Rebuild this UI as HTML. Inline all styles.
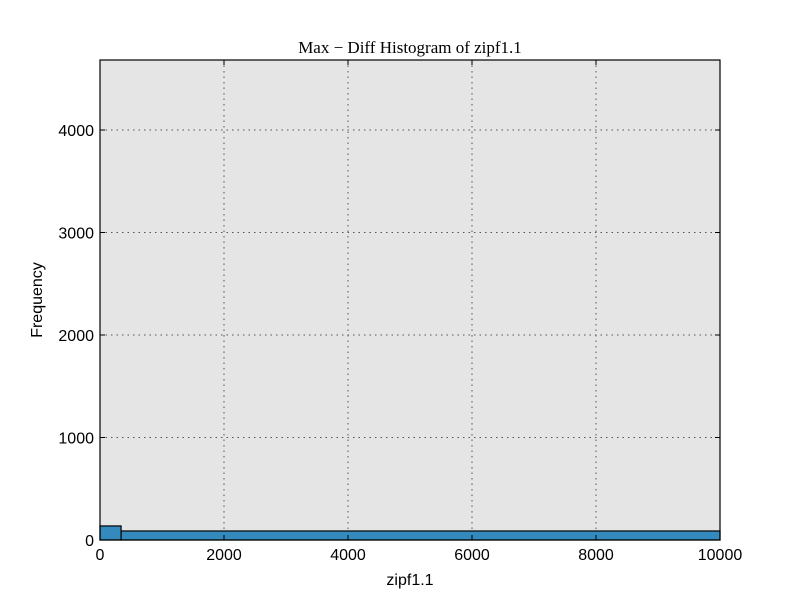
<!DOCTYPE html>
<html><head><meta charset="utf-8"><style>
body{margin:0;background:#fff;}
svg text{font-family:"Liberation Sans",sans-serif;}
</style></head><body>
<svg width="800" height="600" xmlns="http://www.w3.org/2000/svg">
<rect x="0" y="0" width="800" height="600" fill="#fff"/>
<rect x="100" y="60" width="620" height="480" fill="#e5e5e5"/>
<g id="grid"></g>
<g id="bars"></g>
<rect x="100" y="60" width="620" height="480" fill="none" stroke="#000" stroke-width="1.2"/>
<g id="ticks"></g>
<text x="410" y="53" text-anchor="middle" font-size="17" style="font-family:'Liberation Serif',serif">Max − Diff Histogram of zipf1.1</text>
<text x="410" y="585" text-anchor="middle" font-size="16">zipf1.1</text>
<text transform="translate(42,300) rotate(-90)" text-anchor="middle" font-size="16">Frequency</text>
</svg>
<script>
const binEdges=[0,340,10000];
const counts=[137,88];
const xTicks=[0,2000,4000,6000,8000,10000];
const yTicks=[0,1000,2000,3000,4000];
const X0=100,X1=720,Y0=540,Y1=60,xMax=10000,yMax=4683;
const sx=v=>X0+(v/xMax)*(X1-X0);
const sy=v=>Y0-(v/yMax)*(Y0-Y1);
const NS="http://www.w3.org/2000/svg";
function mk(t,a,p){const e=document.createElementNS(NS,t);for(const k in a)e.setAttribute(k,a[k]);p.appendChild(e);return e;}
const grid=document.getElementById('grid'),bars=document.getElementById('bars'),ticks=document.getElementById('ticks');
counts.forEach((c,i)=>{
 const r=mk('rect',{x:sx(binEdges[i]),y:sy(c),width:sx(binEdges[i+1])-sx(binEdges[i]),height:Y0-sy(c),fill:'#348abd',stroke:'#000','stroke-width':1.2},bars);
 
 
});
xTicks.forEach(v=>{
 const x=sx(v);
 if(v>0&&v<xMax){const g=mk('line',{x1:x,y1:Y1,x2:x,y2:Y0,stroke:'#555','stroke-dasharray':'1.5,4'},grid);
 }
 mk('line',{x1:x,y1:Y0,x2:x,y2:Y0-5,stroke:'#000'},ticks);
 mk('line',{x1:x,y1:Y1,x2:x,y2:Y1+5,stroke:'#000'},ticks);
 const t=mk('text',{x:x,y:Y0+20,'text-anchor':'middle','font-size':16},ticks);t.textContent=v;
 
});
yTicks.forEach(v=>{
 const y=sy(v);
 if(v>0){const g=mk('line',{x1:X0,y1:y,x2:X1,y2:y,stroke:'#555','stroke-dasharray':'1.5,4'},grid);
 }
 mk('line',{x1:X0,y1:y,x2:X0+5,y2:y,stroke:'#000'},ticks);
 mk('line',{x1:X1,y1:y,x2:X1-5,y2:y,stroke:'#000'},ticks);
 const t=mk('text',{x:X0-6,y:y+6,'text-anchor':'end','font-size':16},ticks);t.textContent=v;
 
});
</script>
</body></html>
